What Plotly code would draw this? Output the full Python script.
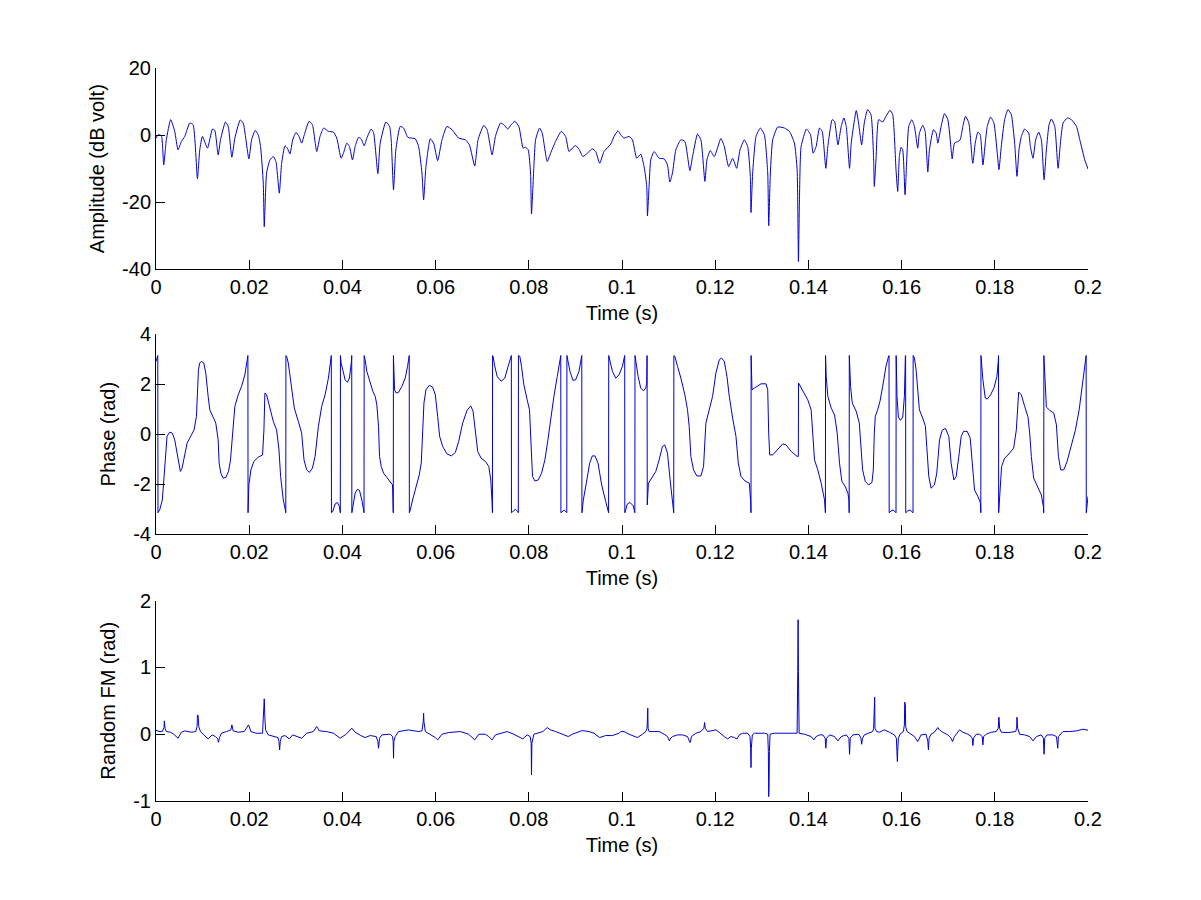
import plotly.graph_objects as go
from plotly.subplots import make_subplots

# ---------------- Amplitude (dB volt) vs time (ms) ----------------
amp_t_a = [0, 0.43, 1.15, 1.65, 2.22, 3.15, 4.02, 4.73, 5.45, 6.17, 7.24, 7.96, 8.89, 9.39, 9.97,
           11.04, 12.12, 12.62, 13.34, 13.84, 14.91, 15.49, 16.28, 16.92, 18.07, 18.71, 19.93, 20.51,
           21.29, 21.94, 22.44, 23.02, 23.23, 23.73, 24.45, 25.17, 25.74, 26.46, 26.96, 27.68, 28.18,
           28.75, 29.33, 30.04, 30.69, 31.26, 31.83, 32.84, 33.56, 34.49, 35.2, 35.99, 37.0, 38.07,
           38.79, 39.72, 40.22, 40.94, 41.51, 42.16, 42.73, 43.45, 44.02, 44.67, 45.24, 46.17, 46.68,
           47.61, 48.11, 49.33, 50.12]
amp_db_a = [-0.9, 0.1, -0.2, -8.9, -1.4, 4.6, 1.1, -4.4, -1.9, -0.4, 3.6, 3.1, -13.0, -4.4, -0.4,
            -3.9, 1.8, 1.4, -5.9, -1.4, 3.9, 2.6, -6.6, -0.9, 4.5, 3.6, -7.1, -1.4,
            1.4, 0.1, -3.4, -14.3, -27.3, -11.3, -7.4, -6.4, -7.9, -17.3, -8.4, -3.2, -3.9,
            -5.6, -1.4, 0.8, -0.4, -2.4, 0.1, 4.1, 3.1, -4.9, -0.4, 2.1, 1.1, 0.9,
            -0.9, -6.9, -5.4, -2.4, -3.4, -7.4, -3.4, -0.7, -1.1, -3.2, -0.9, 1.8, 0.8,
            -11.5, -2.4, 3.9, 2.6]
amp_t_b = [50.47, 50.97, 51.47, 52.41, 53.12, 54.06, 55.63, 56.35, 57.07, 57.43, 57.93, 58.86, 59.58,
           60.44, 61.37, 62.44, 63.52, 64.95, 66.39, 67.25, 68.4, 69.11, 70.33, 71.05, 72.12, 72.84,
           73.92, 74.63, 75.49, 76.21, 77.0, 77.86, 78.79, 79.29, 79.87, 80.37, 80.58, 81.09, 81.45,
           82.31, 82.88, 83.95, 84.67, 85.75, 86.97, 87.9, 88.62, 89.33, 90.05, 90.77, 91.63, 92.56,
           93.63, 94.35, 95.21, 96.14, 97.58, 98.29, 99.15]
amp_db_b = [-1.4, -16.3, -4.4, 2.6, 2.1, -0.7, -1.1, -3.4, -11.3, -19.3, -9.4, -1.1, -2.4,
            -7.6, -1.4, 2.6, 1.6, -0.9, -1.4, -2.9, -9.2, -1.4, 2.9, 1.6, -5.9, -0.4,
            3.6, 3.1, 1.8, 3.1, 4.1, 2.6, -3.9, -3.6, -4.4, -11.3, -23.5, -9.4, -1.4,
            2.1, 0.6, -7.9, -5.4, -1.9, 1.1, -0.4, -4.9, -3.9, -3.1, -4.2, -6.4, -5.4,
            -4.1, -4.9, -8.4, -4.9, -2.7, -0.4, 1.3]
amp_t_c = [99.72, 100.44, 101.51, 102.23, 103.16, 104.02, 104.74, 105.31, 105.46, 105.81, 106.17,
           106.89, 107.97, 109.04, 109.76, 110.26, 110.83, 111.55, 112.63, 113.49, 114.56, 115.14,
           116.21, 116.93, 117.79, 118.22, 118.94, 119.8, 121.23, 121.95, 122.88, 123.74, 124.6,
           125.32, 126.25, 126.97, 127.54, 127.68, 128.04, 128.76, 129.69, 130.55, 131.27, 131.48,
           131.84, 132.34, 133.42, 134.85, 135.93, 137.0, 137.58, 137.86, 138.08, 138.44, 139.59,
           140.45, 141.02, 141.66, 142.38, 142.96, 143.74, 144.17, 145.11, 145.61, 146.33, 147.04,
           147.62, 148.12, 148.83, 149.19, 150.27]
amp_db_c = [0.1, -0.9, -0.4, -1.4, -6.9, -5.7, -9.4, -15.3, -24.1, -15.3, -7.4,
            -4.9, -6.9, -7.1, -8.9, -14.0, -11.3, -4.4, -1.4, -1.9, -10.6, -6.4,
            0.3, -1.4, -13.8, -7.4, -4.6, -6.4, -1.0, -3.4, -9.4, -6.9, -9.9,
            -4.4, -1.4, -3.4, -12.3, -23.1, -11.3, -0.4, 2.1, 0.1, -11.3, -27.0,
            -11.3, -1.4, 2.4, 2.1, 1.1, -2.4, -10.3, -37.7, -19.3, -3.4, 1.8,
            0.1, -5.4, -3.4, 2.1, 1.1, -9.9, -3.4, 4.6, 4.1, -2.9, 2.6,
            5.1, 2.6, -9.9, -2.4, 7.3]
amp_t_d = [150.77, 151.42, 151.99, 152.71, 153.43, 154.0, 154.14, 154.5, 155.08, 155.94, 156.65,
           157.51, 158.09, 158.8, 159.16, 159.52, 159.88, 160.24, 160.74, 161.1, 161.53, 162.17,
           162.75, 163.46, 163.82, 164.54, 165.04, 165.62, 165.97, 166.83, 167.41, 167.77, 168.48,
           169.2, 169.92, 170.63, 170.85, 171.35, 172.07, 172.57, 173.14, 173.72, 174.43, 175.15,
           175.3, 175.8, 176.37, 176.87, 177.45, 177.95, 178.38, 179.09, 179.81, 180.53, 180.89,
           181.39, 182.11, 182.82, 183.54, 184.26, 184.76, 185.19, 185.69, 186.41, 187.27, 187.63,
           188.2, 188.77, 189.42, 189.99, 190.57, 191.07, 191.64, 192.14, 192.86, 193.58, 194.08,
           194.65, 195.59, 196.45, 197.52, 198.24, 199.31, 200.0]
amp_db_d = [3.6, -2.9, 3.6, 7.6, 6.1, -7.1, -15.3, -7.4, 4.6, 3.9, 5.6,
            7.4, 6.1, -10.3, -16.8, -6.4, -3.6, -4.4, -17.8, -7.4, 2.6, 4.6,
            2.6, -3.9, 0.6, 2.9, 1.1, -11.0, -4.4, 1.6, 0.6, -2.4, 2.6,
            6.4, 4.6, -4.4, -7.1, -2.4, -1.9, -1.4, 2.6, 5.6, 3.6, -7.4,
            -8.4, -2.4, 0.9, 0.1, -8.9, -2.4, 2.6, 5.4, 3.6, -5.4, -10.3,
            -3.4, 4.6, 7.6, 6.1, -2.4, -12.3, -4.4, -0.4, 1.8, 0.6, -3.4,
            -6.9, -1.4, 0.9, -1.4, -13.3, -4.4, 3.1, 4.8, 2.6, -9.9, -2.4,
            3.6, 5.1, 4.6, 2.6, -1.4, -7.4, -10.1]

# ---------------- Phase (rad) vs time (ms) ----------------
ph_t_a = [0.0, 0.36, 0.38, 0.43, 0.79, 1.36, 1.72, 2.01, 2.37, 2.94, 3.51, 4.02, 4.52, 4.95, 5.23,
          5.59, 6.17, 6.67, 7.24, 8.17, 8.68, 9.11, 9.39, 9.75, 10.25, 10.68, 11.19, 11.54, 12.26,
          12.83, 13.34, 13.55, 13.91, 14.41, 14.99, 15.56, 15.99, 16.42, 16.92, 17.64, 18.36, 19.07,
          19.57, 19.72, 19.75, 19.93, 20.36, 21.0, 21.94, 22.87, 23.16, 23.37, 23.73, 24.45, 25.17,
          25.88, 26.39, 26.74, 27.32, 27.82, 27.85, 27.88, 28.03, 28.39, 29.11, 29.68, 30.54, 31.26,
          31.76, 32.34, 32.91, 33.56, 34.13, 34.85, 35.56, 36.28, 37.0, 37.57, 37.62, 37.65, 37.93,
          38.43, 38.93, 39.36, 39.51, 39.55, 39.58, 39.72, 40.08, 40.58, 41.08, 41.51, 41.94, 42.0,
          42.03, 42.37, 42.73, 43.23, 43.67, 44.17, 44.6, 44.64, 44.67, 44.88, 45.24, 45.82, 46.53,
          47.04, 47.39, 47.75, 47.97, 48.33, 48.83, 49.54, 50.12]
ph_rad_a = [2.9, 3.13, 3.14, -3.14, -3.03, -2.63, -1.69, -0.63, -0.09, 0.08, 0.04, -0.23, -0.76, -1.29, -1.49,
            -1.36, -0.76, -0.36, -0.16, 0.17, 0.71, 2.57, 2.84, 2.91, 2.84, 2.44, 1.51, 0.97, 0.68,
            0.44, -0.23, -1.16, -1.56, -1.76, -1.73, -1.49, -1.03, -0.09, 1.11, 1.57, 1.91, 2.37,
            3.11, 3.14, -3.14, -2.03, -1.43, -1.09, -0.92, -0.83, 0.17, 1.64, 1.57, 1.04, 0.51,
            0.17, -0.63, -1.69, -2.63, -3.09, -3.14, 3.14, 3.11, 2.84, 1.91, 1.04, 0.51, 0.04,
            -1.03, -1.43, -1.53, -1.36, -0.89, 0.31, 1.11, 1.57, 2.24, 3.11, 3.14, -3.14, -3.09,
            -2.79, -2.73, -2.89, -3.09, -3.14, 3.14, 2.84, 2.57, 2.17, 2.07, 2.24, 2.91, 3.14,
            -3.14, -2.76, -2.36, -2.2, -2.25, -2.63, -3.09, -3.14, 3.14, 2.97, 2.51, 2.17, 1.71,
            1.51, 1.17, 0.31, -0.89, -1.29, -1.56, -1.73, -1.89]
ph_t_b = [50.76, 50.9, 50.92, 50.95, 50.97, 51.19, 51.55, 52.05, 52.77, 53.48, 53.98, 54.34, 54.37,
          54.56, 55.06, 55.78, 56.49, 56.92, 57.21, 57.5, 57.93, 58.64, 59.36, 59.94, 60.44, 60.87,
          61.51, 62.44, 63.38, 64.24, 64.95, 65.81, 66.75, 67.54, 68.04, 68.54, 69.04, 69.76, 70.69,
          71.41, 71.84, 72.12, 72.2, 72.23, 72.34, 72.63, 73.2, 74.06, 74.85, 75.57, 76.21, 76.25,
          76.28, 76.57, 77.14, 77.72, 77.75, 77.78, 78.07, 78.43, 78.94, 79.65, 80.15, 80.44, 80.8,
          81.3, 82.02, 82.74, 83.45, 84.1, 84.67, 85.39, 86.11, 86.82, 86.86, 86.89, 87.18, 87.61,
          88.11, 88.15, 88.18, 88.4, 88.83, 89.47, 90.05, 90.77, 91.34, 91.37, 91.4, 91.7, 92.34,
          93.06, 93.63, 94.21, 94.85, 95.64, 96.5, 97.08, 97.12, 97.15, 97.36, 97.94, 98.65, 99.37,
          100.09, 100.55, 100.58, 100.61]
ph_rad_b = [-2.03, -3.09, -3.14, 3.14, 2.84, 1.77, 1.64, 1.67, 1.91, 2.24, 2.71, 3.14, -3.14,
            -3.03, -2.63, -2.09, -1.63, -1.16, -0.09, 1.24, 1.77, 1.95, 1.88, 1.57, 0.71, -0.09,
            -0.49, -0.79, -0.87, -0.73, -0.29, 0.44, 0.95, 1.13, 0.91, 0.17, -0.69, -0.96, -1.09,
            -1.29, -1.83, -2.73, -3.14, 3.14, 3.11, 2.77, 2.31, 2.11, 2.24, 2.71, 3.13, 3.14,
            -3.14, -3.09, -3.0, -3.11, -3.14, 3.14, 3.11, 2.71, 1.97, 1.37, 0.97, -0.23, -1.69,
            -1.87, -1.83, -1.56, -1.03, -0.23, 0.64, 1.51, 2.31, 3.13, 3.14, -3.14, -3.09, -3.03,
            -3.13, -3.14, 3.14, 2.97, 2.51, 2.15, 2.17, 2.51, 3.13, 3.14, -3.14, -2.63, -1.96,
            -1.16, -0.87, -0.87, -1.16, -2.03, -2.69, -3.09, -3.14, 3.14, 2.97, 2.51, 2.24, 2.37,
            2.71, 3.13, 3.14, -3.14]
ph_t_c = [101.15, 101.73, 102.44, 102.73, 102.76, 102.79, 103.02, 103.45, 104.02, 104.6, 105.1,
          105.31, 105.38, 105.42, 105.67, 106.53, 107.25, 107.97, 108.68, 109.18, 109.76, 110.33,
          110.83, 111.05, 111.1, 111.13, 111.34, 111.91, 112.63, 113.49, 114.06, 114.42, 114.78,
          115.35, 116.07, 116.93, 117.5, 118.0, 118.72, 119.44, 120.15, 120.87, 121.37, 121.95,
          122.52, 123.02, 123.74, 124.46, 124.96, 125.53, 126.39, 127.32, 127.61, 127.68, 127.71,
          127.9, 128.4, 129.12, 129.83, 130.91, 131.27, 131.48, 131.7, 132.34, 133.42, 134.5,
          135.21, 136.29, 137.58, 137.84, 137.88, 138.08, 138.8, 139.87, 140.59, 140.95, 141.31,
          142.02, 142.74, 143.46, 143.6, 143.65, 143.68, 143.82, 144.17, 144.89, 145.61, 146.18,
          146.68, 147.18, 147.9, 148.48, 148.69, 148.75, 148.78, 149.05, 149.41, 150.27, 150.92]
ph_rad_c = [-2.79, -2.73, -2.87, -3.13, -3.14, 3.14, 2.84, 2.31, 1.84, 1.73, 1.84,
            2.04, 3.14, -2.83, -1.96, -1.69, -1.49, -1.03, -0.49, -0.43, -0.76, -1.83,
            -2.89, -3.13, -3.14, 3.14, 3.11, 2.71, 2.24, 1.57, 0.97, 0.31, -0.89,
            -1.43, -1.67, -1.67, -1.29, 0.44, 0.97, 1.51, 2.44, 2.97, 3.04, 2.91,
            2.31, 1.51, 0.64, -0.09, -1.16, -1.69, -1.87, -1.96, -2.69, -3.14, 3.14,
            1.77, 1.84, 1.93, 2.01, 2.01, 1.77, 0.04, -0.83, -0.83, -0.6, -0.39,
            -0.43, -0.69, -0.89, -0.89, 2.04, 1.97, 1.77, 1.37, 0.97, 0.04, -1.03,
            -1.43, -1.96, -2.63, -3.03, -3.14, 3.14, 2.31, 1.51, 1.04, 0.77, 0.04,
            -1.16, -1.89, -2.09, -2.36, -2.63, -3.14, 3.14, 1.91, 1.24, 0.91, 0.44]
ph_t_d = [151.28, 151.63, 152.21, 152.92, 153.64, 153.93, 154.14, 154.36, 154.86, 155.36, 155.94,
          156.65, 157.23, 157.3, 157.33, 157.73, 158.23, 158.73, 158.8, 158.83, 159.02, 159.31,
          159.74, 160.24, 160.6, 160.81, 160.86, 160.89, 161.31, 161.82, 162.39, 162.45, 162.48,
          162.75, 163.11, 163.46, 163.82, 164.54, 165.11, 165.4, 165.83, 166.33, 167.05, 167.55,
          168.13, 168.7, 169.42, 170.13, 170.63, 171.21, 171.71, 172.28, 172.79, 173.29, 174.08,
          174.72, 175.15, 175.65, 176.37, 176.94, 177.0, 177.03, 177.45, 177.95, 178.38, 179.09,
          179.81, 180.46, 180.74, 180.8, 180.83, 181.03, 181.46, 182.11, 183.04, 184.04, 184.62,
          185.12, 185.69, 186.41, 187.13, 187.48, 187.84, 188.34, 189.28, 189.99, 190.42, 190.5,
          190.53, 190.71, 191.07, 191.79, 192.65, 193.22, 193.65, 194.15, 194.8, 195.51, 196.45,
          197.31, 198.1, 198.81, 199.31, 199.53, 199.6, 199.63, 200.0]
ph_rad_d = [-0.49, -1.43, -1.89, -2.03, -1.93, -1.43, 0.04, 0.71, 0.97, 1.31, 1.91,
            2.71, 3.13, 3.14, -3.14, -3.07, -3.03, -3.13, -3.14, 3.14, 1.51, 0.68,
            0.55, 0.68, 1.51, 3.11, 3.14, -3.14, -3.07, -3.03, -3.13, -3.14, 3.14,
            3.04, 2.57, 1.91, 0.97, 0.64, 0.31, -0.49, -1.69, -2.16, -2.03, -1.56,
            -0.23, 0.15, 0.23, -0.09, -1.16, -1.83, -1.69, -0.89, -0.09, 0.11, 0.11,
            -0.16, -1.16, -2.23, -2.49, -2.76, -3.14, 3.14, 2.17, 1.44, 1.4, 1.57,
            1.84, 2.31, 2.91, 3.14, -3.14, -2.49, -1.29, -0.96, -0.79, -0.56, 0.17,
            1.68, 1.57, 1.11, 0.68, 0.04, -0.89, -1.76, -2.16, -2.43, -2.89, -3.14,
            3.14, 2.31, 1.08, 0.95, 0.84, 0.37, -0.89, -1.43, -1.43, -1.09, -0.43,
            0.17, 0.97, 1.97, 2.84, 3.13, 3.14, -3.14, -2.49]

# ---------------- Random FM (rad) vs time (ms) ----------------
fm_t_a = [0, 0.65, 1.36, 1.72, 1.79, 1.94, 2.22, 3.08, 3.8, 4.73, 5.45, 6.17, 7.6, 8.53, 8.82,
          8.89, 9.03, 9.18, 9.54, 10.25, 11.19, 12.05, 12.76, 13.26, 13.41, 13.62, 14.05, 15.13,
          16.06, 16.28, 16.56, 17.64, 18.93, 19.86, 20.36, 21.44, 22.87, 23.02, 23.23, 23.37, 23.52,
          24.09, 25.17, 26.17, 26.39, 26.53, 26.67, 26.96, 27.68, 28.61, 29.33, 30.18, 31.26, 32.34,
          33.77, 34.49, 35.06, 36.64, 38.07, 39.51, 40.8, 42.02, 42.73, 43.95, 44.88, 45.96, 47.25,
          47.61, 47.75, 47.97, 48.47, 50.12]
fm_rad_a = [0.06, 0.04, 0.04, 0.1, 0.2, 0.09, 0.04, 0.03, 0.0, -0.06, 0.03, 0.05, 0.03, 0.04, 0.115,
            0.29, 0.28, 0.115, 0.04, -0.01, -0.07, -0.01, -0.035, -0.07, -0.12, -0.05, 0.015, 0.04,
            0.065, 0.14, 0.05, 0.03, 0.04, 0.14, 0.04, 0.015, 0.015, 0.24, 0.53, 0.24, 0.065,
            -0.01, -0.035, -0.05, -0.11, -0.235, -0.11, -0.035, -0.02, -0.07, -0.01, -0.035, -0.06, 0.015,
            0.04, 0.115, 0.05, 0.04, 0.015, -0.06, 0.0, 0.09, 0.03, -0.02, -0.05, -0.02, -0.035,
            -0.11, -0.21, -0.06, -0.01, 0.0]
fm_t_b = [50.26, 50.76, 50.9, 50.97, 51.04, 51.33, 52.05, 54.2, 56.35, 57.07, 57.35, 57.43, 57.5,
          57.79, 58.86, 59.94, 60.44, 61.37, 62.8, 65.31, 67.1, 68.4, 69.26, 70.69, 71.41, 72.12,
          72.84, 73.92, 75.35, 76.78, 77.86, 78.72, 79.65, 80.3, 80.51, 80.58, 80.66, 81.09, 82.16,
          83.02, 83.95, 84.67, 85.75, 87.18, 88.47, 89.33, 91.48, 92.92, 93.99, 95.21, 96.5, 97.94,
          99.37]
fm_rad_b = [0.0, -0.035, -0.11, -0.36, -0.11, -0.035, 0.04, 0.065, 0.04, 0.05, 0.19, 0.315, 0.19,
            0.04, 0.0, -0.05, -0.085, 0.0, 0.025, 0.04, 0.0, -0.085, 0.0, 0.0, -0.035, -0.085,
            -0.01, 0.015, 0.04, 0.0, -0.035, -0.07, -0.01, -0.035, -0.135, -0.61, -0.135, 0.0, 0.025,
            0.04, 0.1, 0.065, 0.04, 0.0, -0.035, 0.0, 0.055, 0.04, 0.015, -0.05, -0.02, -0.02,
            0.015]
fm_t_c = [99.72, 100.44, 101.51, 102.59, 103.3, 104.38, 105.1, 105.38, 105.46, 105.53, 105.6, 105.81,
          106.89, 107.97, 109.04, 109.76, 110.19, 110.33, 110.83, 111.91, 112.98, 114.06, 114.49,
          114.63, 114.92, 115.85, 116.93, 117.57, 117.72, 117.86, 118.36, 119.44, 120.15, 120.66,
          121.23, 121.95, 122.66, 123.38, 124.1, 124.67, 125.17, 125.89, 126.97, 127.47, 127.61,
          127.68, 127.75, 127.97, 128.4, 130.55, 131.27, 131.41, 131.48, 131.55, 131.63, 131.77,
          132.7, 134.85, 137.58, 137.72, 137.79, 137.86, 138.01, 139.16, 140.59, 141.16, 141.66,
          142.38, 143.1, 143.6, 143.74, 143.89, 144.53, 145.61, 146.33, 147.04, 148.12, 148.69,
          148.83, 148.98, 149.55, 150.63]
fm_rad_c = [0.04, 0.04, 0.0, -0.035, -0.05, 0.0, 0.04, 0.09, 0.39, 0.39, 0.09, 0.04,
            0.04, 0.04, 0.0, -0.035, -0.1, -0.07, -0.035, -0.01, -0.01, -0.035, -0.11,
            -0.125, -0.035, 0.015, 0.04, 0.09, 0.175, 0.09, 0.04, 0.05, 0.065, 0.04,
            0.0, -0.035, -0.07, -0.035, -0.05, -0.07, -0.01, 0.015, 0.015, -0.035, -0.21,
            -0.5, -0.21, -0.01, 0.015, 0.015, 0.0, -0.26, -0.935, -0.81, -0.26, 0.0,
            0.015, 0.015, 0.015, 0.94, 1.715, 0.94, 0.015, 0.0, -0.035, -0.085, -0.035,
            -0.01, -0.01, -0.06, -0.21, -0.06, -0.01, -0.035, -0.1, -0.035, -0.01, -0.06,
            -0.3, -0.06, -0.01, 0.0]
fm_t_d = [150.92, 151.28, 151.42, 151.63, 151.99, 153.07, 153.79, 154.0, 154.14, 154.22, 154.29,
          154.65, 155.22, 156.29, 157.37, 158.45, 158.88, 159.02, 159.09, 159.16, 159.31, 159.66,
          160.38, 160.6, 160.67, 160.81, 160.88, 161.17, 162.03, 162.75, 163.46, 164.18, 165.26,
          165.62, 165.76, 165.9, 166.33, 167.05, 167.77, 168.13, 168.84, 169.92, 170.63, 170.92,
          171.35, 172.07, 172.43, 173.14, 174.22, 174.94, 175.15, 175.3, 175.44, 176.01, 176.73,
          177.3, 177.45, 177.59, 178.16, 179.24, 180.31, 180.74, 180.89, 181.03, 181.39, 182.82,
          184.47, 184.69, 184.76, 184.9, 185.33, 186.41, 187.48, 188.2, 188.92, 189.99, 190.42,
          190.57, 190.71, 191.21, 192.5, 193.22, 193.51, 193.65, 194.65, 196.09, 197.52, 198.96,
          200.0]
fm_rad_d = [-0.01, -0.06, -0.15, -0.06, -0.01, 0.015, 0.04, 0.09, 0.555, 0.555, 0.09,
            0.04, 0.03, 0.065, 0.03, -0.01, -0.06, -0.26, -0.41, -0.26, -0.06, 0.0,
            0.04, 0.14, 0.48, 0.44, 0.115, 0.04, 0.0, -0.035, -0.11, -0.01, 0.0,
            -0.11, -0.235, -0.06, 0.0, 0.03, 0.1, 0.065, 0.03, -0.01, -0.06, -0.11,
            -0.035, 0.04, 0.065, 0.03, 0.0, -0.035, -0.06, -0.17, -0.06, 0.0, 0.0,
            -0.035, -0.16, -0.035, 0.0, 0.03, 0.04, 0.09, 0.255, 0.09, 0.03, 0.025,
            0.04, 0.09, 0.255, 0.09, 0.0, -0.01, -0.035, -0.1, -0.035, -0.01, -0.06,
            -0.3, -0.06, -0.01, -0.01, -0.035, -0.21, -0.035, 0.04, 0.04, 0.05, 0.075,
            0.06]

# ---------------- Ticks and labels ----------------
x_tick_vals = [0, 0.02, 0.04, 0.06, 0.08, 0.1, 0.12, 0.14, 0.16, 0.18, 0.2]
x_tick_text = ["0", "0.02", "0.04", "0.06", "0.08", "0.1", "0.12", "0.14", "0.16", "0.18", "0.2"]
amp_ticks = [-40, -20, 0, 20]
ph_ticks = [-4, -2, 0, 2, 4]
fm_ticks = [-1, 0, 1, 2]
x_title = "Time (s)"
y_titles = ["Amplitude (dB volt)", "Phase (rad)", "Random FM (rad)"]


def join(*parts):
    out = []
    for p in parts:
        out += p
    return out


amp_t = join(amp_t_a, amp_t_b, amp_t_c, amp_t_d)
amp_db = join(amp_db_a, amp_db_b, amp_db_c, amp_db_d)
ph_t = join(ph_t_a, ph_t_b, ph_t_c, ph_t_d)
ph_rad = join(ph_rad_a, ph_rad_b, ph_rad_c, ph_rad_d)
fm_t = join(fm_t_a, fm_t_b, fm_t_c, fm_t_d)
fm_rad = join(fm_rad_a, fm_rad_b, fm_rad_c, fm_rad_d)

for name, a, b in [("amp_a", amp_t_a, amp_db_a), ("amp_b", amp_t_b, amp_db_b),
                   ("amp_c", amp_t_c, amp_db_c), ("amp_d", amp_t_d, amp_db_d),
                   ("ph_a", ph_t_a, ph_rad_a), ("ph_b", ph_t_b, ph_rad_b),
                   ("ph_c", ph_t_c, ph_rad_c), ("ph_d", ph_t_d, ph_rad_d),
                   ("fm_a", fm_t_a, fm_rad_a), ("fm_b", fm_t_b, fm_rad_b),
                   ("fm_c", fm_t_c, fm_rad_c), ("fm_d", fm_t_d, fm_rad_d)]:
    assert len(a) == len(b), (name, len(a), len(b))


def to_s(ms):
    return [v / 1000.0 for v in ms]


FONT = "Liberation Sans, Arial, Helvetica, sans-serif"
FSIZE = 20
LINE_COLOR = "#0000d0"

fig = make_subplots(rows=3, cols=1)
fig.add_trace(go.Scatter(x=to_s(amp_t), y=amp_db, mode="lines",
                         line=dict(color=LINE_COLOR, width=1, shape="spline", smoothing=0.5),
                         showlegend=False, hoverinfo="skip"), row=1, col=1)
fig.add_trace(go.Scatter(x=to_s(ph_t), y=ph_rad, mode="lines",
                         line=dict(color=LINE_COLOR, width=1),
                         showlegend=False, hoverinfo="skip"), row=2, col=1)
fig.add_trace(go.Scatter(x=to_s(fm_t), y=fm_rad, mode="lines",
                         line=dict(color=LINE_COLOR, width=1),
                         showlegend=False, hoverinfo="skip"), row=3, col=1)

axis_common = dict(ticks="inside", ticklen=9, tickwidth=1, tickcolor="black",
                   showline=True, linecolor="black", linewidth=1, mirror=False,
                   showgrid=False, zeroline=False,
                   tickfont=dict(family=FONT, size=FSIZE, color="black"))

domains = [[0.7254, 1.0], [0.3639, 0.6371], [0.0, 0.2733]]
yranges = [[-40, 20], [-4, 4], [-1, 2]]
yticks = [amp_ticks, ph_ticks, fm_ticks]

for i in range(3):
    fig.update_xaxes(range=[0, 0.2], tickvals=x_tick_vals, ticktext=x_tick_text,
                     title=dict(text=x_title, font=dict(family=FONT, size=FSIZE, color="black"), standoff=8),
                     **axis_common, row=i + 1, col=1)
    fig.update_yaxes(range=yranges[i], domain=domains[i], tickvals=yticks[i],
                     ticktext=[str(v) for v in yticks[i]],
                     title=dict(text=y_titles[i], font=dict(family=FONT, size=FSIZE, color="black"), standoff=12),
                     **axis_common, row=i + 1, col=1)

fig.update_layout(width=1201, height=900, autosize=False,
                  margin=dict(l=156, r=113, t=68, b=99),
                  paper_bgcolor="white", plot_bgcolor="white",
                  font=dict(family=FONT, size=FSIZE, color="black"))

fig.write_html("out.html")
